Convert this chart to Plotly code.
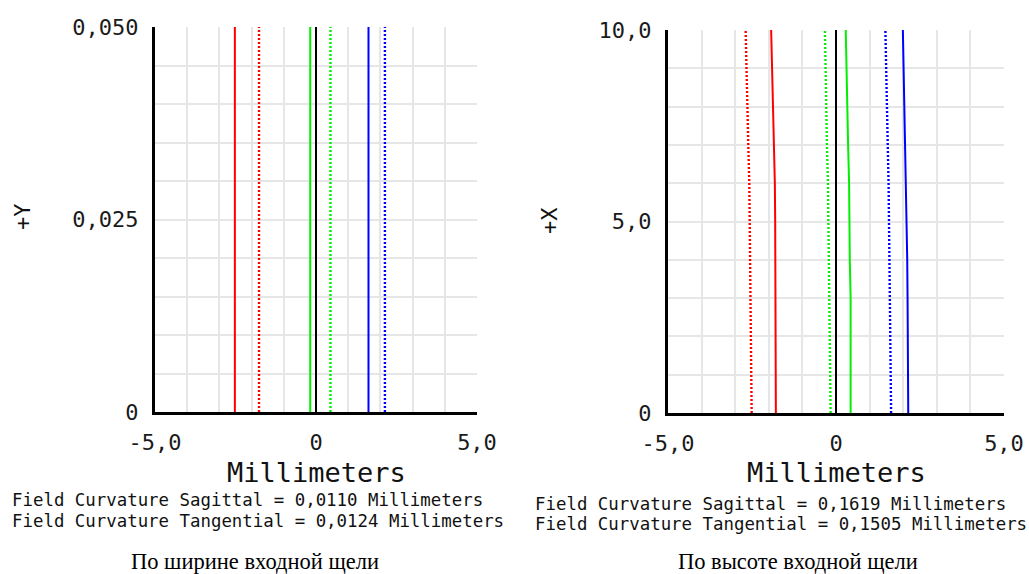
import plotly.graph_objects as go

W, H = 1029, 574

# ---- data: field curvature per wavelength (mm), solid / dotted pairs ----
# left panel: field along the slit width (+Y, mm)
width_field = [0.0, 0.05]
width_red_solid = [-2.52, -2.52]
width_red_dot = [-1.77, -1.77]
width_green_solid = [-0.18, -0.18]
width_green_dot = [0.45, 0.45]
width_blue_solid = [1.63, 1.63]
width_blue_dot = [2.14, 2.14]

# right panel: field along the slit height (+X, mm)
height_field = [0, 1, 2, 3, 4, 5, 6, 7, 8, 9, 10]
height_red_solid = [-1.79, -1.79, -1.79, -1.79, -1.81, -1.81, -1.82, -1.85, -1.87, -1.90, -1.93]
height_red_dot = [-2.51, -2.52, -2.53, -2.54, -2.55, -2.56, -2.58, -2.61, -2.64, -2.66, -2.69]
height_green_solid = [0.435, 0.435, 0.435, 0.435, 0.41, 0.405, 0.39, 0.36, 0.34, 0.31, 0.29]
height_green_dot = [-0.16, -0.17, -0.18, -0.19, -0.20, -0.21, -0.24, -0.27, -0.29, -0.31, -0.33]
height_blue_solid = [2.15, 2.15, 2.14, 2.13, 2.12, 2.10, 2.08, 2.06, 2.04, 2.02, 1.99]
height_blue_dot = [1.64, 1.63, 1.62, 1.61, 1.60, 1.585, 1.565, 1.54, 1.52, 1.49, 1.47]

x_tickvals = [-5, 0, 5]
x_ticktext = ["-5,0", "0", "5,0"]
width_tickvals = [0, 0.025, 0.05]
width_ticktext = ["0", "0,025", "0,050"]
height_tickvals = [0, 5, 10]
height_ticktext = ["0", "5,0", "10,0"]

footer_width = ["Field Curvature Sagittal = 0,0110 Millimeters",
                "Field Curvature Tangential = 0,0124 Millimeters"]
footer_height = ["Field Curvature Sagittal = 0,1619 Millimeters",
                 "Field Curvature Tangential = 0,1505 Millimeters"]
caption_width = "По ширине входной щели"
caption_height = "По высоте входной щели"

RED, GREEN, BLUE = "#ff0000", "#00f000", "#0000ff"
MONO = "DejaVu Sans Mono"
GRID = "#e6e6e6"
DOT = "2px,2px"


def px_x(p):
    return p / W


def px_y(p):
    return 1 - p / H


fig = go.Figure()

panels = [
    ("x", "y", width_field, [
        (width_red_solid, RED, "solid"), (width_red_dot, RED, DOT),
        (width_green_solid, GREEN, "solid"), (width_green_dot, GREEN, DOT),
        (width_blue_solid, BLUE, "solid"), (width_blue_dot, BLUE, DOT)]),
    ("x2", "y2", height_field, [
        (height_red_solid, RED, "solid"), (height_red_dot, RED, DOT),
        (height_green_solid, GREEN, "solid"), (height_green_dot, GREEN, DOT),
        (height_blue_solid, BLUE, "solid"), (height_blue_dot, BLUE, DOT)]),
]
for xa, ya, field, curves in panels:
    for xs, color, dash in curves:
        fig.add_trace(go.Scatter(
            x=xs, y=field, xaxis=xa, yaxis=ya, mode="lines",
            line=dict(color=color, width=2 if dash == "solid" else 2.4, dash=dash),
            showlegend=False, hoverinfo="skip"))

tickfont = dict(family=MONO, size=22, color="#1a1a1a")


def xaxis_cfg(domain, anchor):
    return dict(
        domain=domain, anchor=anchor, range=[-5, 5], automargin=False,
        tickvals=x_tickvals, ticktext=x_ticktext, tickfont=tickfont,
        ticks="outside", ticklen=9, tickcolor="rgba(0,0,0,0)",
        showgrid=True, gridcolor=GRID, gridwidth=2,
        minor=dict(dtick=1, showgrid=True, gridcolor=GRID, gridwidth=2),
        showline=True, linecolor="black", linewidth=3,
        zeroline=True, zerolinecolor="black", zerolinewidth=2,
        fixedrange=True)


def yaxis_cfg(domain, anchor, rng, tv, tt, minor):
    return dict(
        domain=domain, anchor=anchor, range=rng, automargin=False,
        tickvals=tv, ticktext=tt, tickfont=tickfont,
        ticks="outside", ticklen=9, tickcolor="rgba(0,0,0,0)",
        showgrid=True, gridcolor=GRID, gridwidth=2,
        minor=dict(dtick=minor, showgrid=True, gridcolor=GRID, gridwidth=2),
        showline=True, linecolor="black", linewidth=3,
        zeroline=False, fixedrange=True)


fig.update_layout(
    width=W, height=H,
    margin=dict(l=0, r=0, t=0, b=0, autoexpand=False),
    paper_bgcolor="white", plot_bgcolor="white",
    xaxis=xaxis_cfg([px_x(155), px_x(477)], "y"),
    yaxis=yaxis_cfg([px_y(412), px_y(27)], "x", [0, 0.05],
                    width_tickvals, width_ticktext, 0.005),
    xaxis2=xaxis_cfg([px_x(668), px_x(1004)], "y2"),
    yaxis2=yaxis_cfg([px_y(413), px_y(30)], "x2", [0, 10],
                     height_tickvals, height_ticktext, 1),
)

ann = []
# axis titles
for cx in (316, 836):
    ann.append(dict(text="Millimeters", x=px_x(cx), y=px_y(472),
                    font=dict(family=MONO, size=27, color="#111")))
ann.append(dict(text="+Y", x=px_x(22), y=px_y(217), textangle=-90,
                font=dict(family=MONO, size=22, color="#111")))
ann.append(dict(text="+X", x=px_x(549), y=px_y(221), textangle=-90,
                font=dict(family=MONO, size=22, color="#111")))
# curvature summary lines
for i, line in enumerate(footer_width):
    ann.append(dict(text=line, x=px_x(10), y=px_y(500 + 21 * i), xanchor="left",
                    font=dict(family=MONO, size=17.4, color="#111")))
for i, line in enumerate(footer_height):
    ann.append(dict(text=line, x=px_x(533), y=px_y(504 + 20 * i), xanchor="left",
                    font=dict(family=MONO, size=17.4, color="#111")))
# panel captions
ann.append(dict(text=caption_width, x=px_x(255), y=px_y(561),
                font=dict(family="Liberation Serif", size=22.5, color="black")))
ann.append(dict(text=caption_height, x=px_x(798), y=px_y(561),
                font=dict(family="Liberation Serif", size=22.5, color="black")))

for a in ann:
    a.setdefault("xanchor", "center")
    a.update(xref="paper", yref="paper", yanchor="middle", showarrow=False)
fig.update_layout(annotations=ann)

fig.write_html("out.html")
